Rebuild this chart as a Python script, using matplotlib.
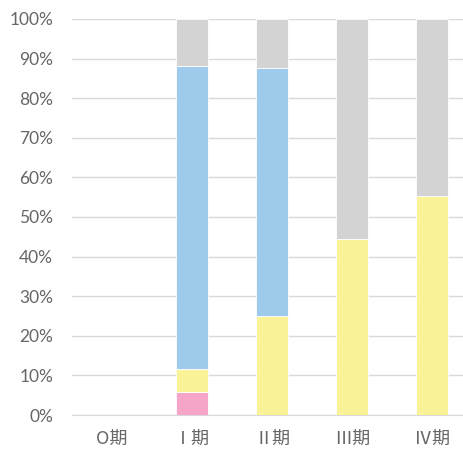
import numpy as np
from matplotlib import pyplot as plt
from matplotlib.ticker import PercentFormatter

plt.rcParams['font.family'] = ['Lato', 'Noto Sans CJK JP', 'DejaVu Sans']

# stage categories and shares (%) per group
stages = ['O期', 'Ⅰ期', 'Ⅱ期', 'Ⅲ期', 'Ⅳ期']
pink = [0, 5.9, 0, 0, 0]
yellow = [0, 5.8, 25.0, 44.4, 55.2]
blue = [0, 76.5, 62.5, 0, 0]
gray = [0, 11.8, 12.5, 55.6, 44.8]

colors = ['#F4A5C8', '#FAF296', '#9ECAEC', '#D3D3D3']

fig = plt.figure(figsize=(4.64, 4.58), dpi=100)
ax = fig.add_axes([72 / 464, 43 / 458, 400 / 464, 396 / 458])

x = np.arange(len(stages))
bottom = np.zeros(len(stages))
for vals, c in zip([pink, yellow, blue, gray], colors):
    vals = np.array(vals)
    ax.bar(x, vals, width=0.39, bottom=bottom, color=c,
           edgecolor='white', linewidth=0.6, zorder=3)
    bottom += vals

ax.set_xlim(-0.5, 4.5)
ax.set_ylim(0, 100)
ax.set_yticks(np.arange(0, 101, 10))
ax.yaxis.set_major_formatter(PercentFormatter(decimals=0))
ax.set_xticks(x)
ax.set_xticklabels(stages, fontfamily=['Noto Sans CJK JP'], fontsize=13)
ax.grid(axis='y', color='#D9D9D9', linewidth=1, zorder=0)
ax.tick_params(length=0, colors='#666666')
ax.tick_params(axis='y', labelsize=12.5, pad=13.5)
ax.tick_params(axis='x', pad=11)
for s in ['top', 'right', 'left']:
    ax.spines[s].set_visible(False)
ax.spines['bottom'].set_color('#D9D9D9')

fig.savefig('out.png', dpi=100)
